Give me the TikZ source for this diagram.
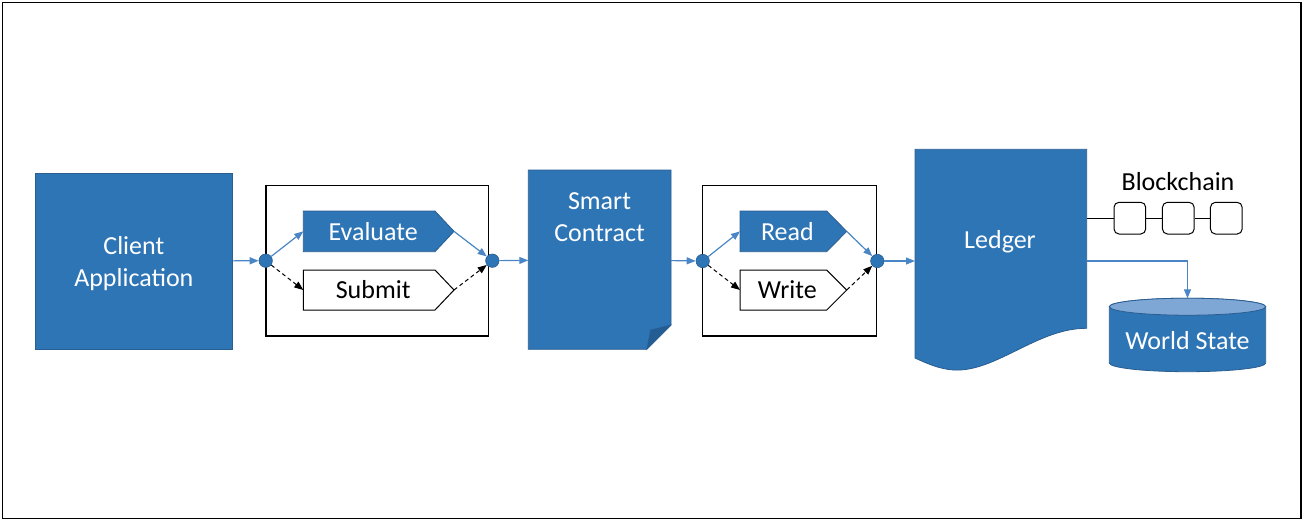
\documentclass[tikz,border=0pt]{standalone}
\usepackage{fontspec}
\setmainfont{Carlito}
\usetikzlibrary{arrows.meta,calc}
\pgfdeclarelayer{bg}
\pgfsetlayers{bg,main}
\definecolor{mblue}{HTML}{2E75B6}
\definecolor{dblue}{HTML}{2A5D90}
\definecolor{lblue}{HTML}{4A86C5}
\definecolor{tblue}{HTML}{7FA7D6}
\definecolor{fblue}{HTML}{245C94}
\begin{document}
\begin{tikzpicture}[x=1pt,y=-1pt,
  font=\fontsize{26pt}{32pt}\selectfont,
  bluebox/.style={fill=mblue, draw=dblue, line width=0.8pt},
  holder/.style={inner sep=0pt, outer sep=0pt},
  frame/.style={draw=black, line width=1.3pt, inner sep=0pt},
  dot/.style={circle, fill=mblue, draw=dblue, line width=0.6pt, minimum size=13.4pt, inner sep=0pt},
  flow/.style={draw=lblue, line width=1.2pt, -{Triangle[length=9pt,width=7pt]}},
  dflow/.style={draw=black, line width=1pt, dash pattern=on 4pt off 3pt, -{Triangle[length=9pt,width=7pt]}},
  blk/.style={draw=black, line width=1pt, rounded corners=5pt, minimum width=31.7pt, minimum height=31.7pt, inner sep=0pt},
  wtext/.style={text=white, align=center, inner sep=0pt},
  btext/.style={text=black, align=center, inner sep=0pt}]
\useasboundingbox (0,0) rectangle (1306,523);

% outer frame
\node[draw=black, line width=1.5pt, minimum width=1298.7pt, minimum height=516pt, inner sep=0pt] (outer) at (651.65,260.3) {};

% client application
\node[bluebox, minimum width=197.7pt, minimum height=176pt] (client) at (133.85,261.3) {};
\node[wtext] (cltext) at (133.85,263.5) {Client\\Application};

% first group
\node[frame, minimum width=222.3pt, minimum height=150.7pt] (box1) at (377.15,260.65) {};
\node[holder, wtext, minimum width=131.7pt, minimum height=40.7pt] (ev) at (369.15,231.35) {\hspace{8pt}Evaluate};
\node[holder, btext, minimum width=131.7pt, minimum height=40pt] (sub) at (369.15,290) {\hspace{8pt}Submit};
\coordinate (evtip) at ($(ev.east)+(19,0)$);
\coordinate (subtip) at ($(sub.east)+(19,0)$);
\begin{pgfonlayer}{bg}
  \draw[bluebox] (ev.north west) -- (ev.north east) -- (evtip) -- (ev.south east) -- (ev.south west) -- cycle;
  \draw[fill=white, draw=black, line width=1pt] (sub.north west) -- (sub.north east) -- (subtip) -- (sub.south east) -- (sub.south west) -- cycle;
\end{pgfonlayer}
\node[dot] (c1) at (265.7,260.7) {};
\node[dot] (c2) at (492.3,260.7) {};

% smart contract
\node[holder, minimum width=142.7pt, minimum height=179.3pt] (sc) at (599.65,259.65) {};
\begin{pgfonlayer}{bg}
  \draw[bluebox] (sc.north west) -- (sc.north east) -- ($(sc.south east)+(0,-24.3)$) -- ($(sc.south east)+(-24.3,0)$) -- (sc.south west) -- cycle;
  \draw[fill=fblue, draw=dblue, line width=0.6pt] ($(sc.south east)+(0,-24.3)$) -- ($(sc.south east)+(-20.3,-19.3)$) -- ($(sc.south east)+(-24.3,0)$) -- cycle;
\end{pgfonlayer}
\node[wtext] (sctext) at (599.5,217.5) {Smart\\Contract};

% second group
\node[frame, minimum width=174.4pt, minimum height=150.7pt] (box2) at (789.5,260.65) {};
\node[holder, wtext, minimum width=86.7pt, minimum height=40.7pt] (rd) at (783.35,231.35) {\hspace{8pt}Read};
\node[holder, btext, minimum width=86.7pt, minimum height=40pt] (wr) at (783.35,290) {\hspace{8pt}Write};
\coordinate (rdtip) at ($(rd.east)+(20,0)$);
\coordinate (wrtip) at ($(wr.east)+(20,0)$);
\begin{pgfonlayer}{bg}
  \draw[bluebox] (rd.north west) -- (rd.north east) -- (rdtip) -- (rd.south east) -- (rd.south west) -- cycle;
  \draw[fill=white, draw=black, line width=1pt] (wr.north west) -- (wr.north east) -- (wrtip) -- (wr.south east) -- (wr.south west) -- cycle;
\end{pgfonlayer}
\node[dot] (c3) at (702.7,261) {};
\node[dot] (c4) at (877.3,261) {};

% ledger
\node[holder, minimum width=171.7pt, minimum height=208.7pt] (ledger) at (1000.85,253.65) {};
\begin{pgfonlayer}{bg}
  \draw[bluebox] (ledger.north west) -- (ledger.north east) -- (1086.7,328.3)
    .. controls (1040,328) and (1000,368) .. (960,370)
    .. controls (945,371) and (930,365) .. (915,358) -- cycle;
\end{pgfonlayer}
\node[wtext] (ledtext) at (1000,241.5) {Ledger};

% blockchain
\node[btext] (bctext) at (1178,181.7) {Blockchain};
\node[blk] (b1) at (1129.85,218.15) {};
\node[blk] (b2) at (1178.3,218.15) {};
\node[blk] (b3) at (1226.3,218.15) {};
\draw[black, line width=1pt] (ledger.east |- b1) -- (b1) (b1) -- (b2) (b2) -- (b3);

% world state cylinder
\node[holder, minimum width=156.4pt, minimum height=73.4pt] (ws) at (1187.5,335) {};
\begin{pgfonlayer}{bg}
  \draw[bluebox] (1109.3,306.7) -- (1109.3,363) arc[start angle=180, end angle=0, x radius=78.2, y radius=8.7]
    -- (1265.7,306.7) arc[start angle=0, end angle=-180, x radius=78.2, y radius=8.5] -- cycle;
  \draw[fill=tblue, draw=dblue, line width=0.8pt] (1187.5,306.7) ellipse[x radius=78.2, y radius=8.5];
\end{pgfonlayer}
\node[wtext] (wstext) at (1187.5,341) {World State};

% connectors
\draw[flow] (client) -- (c1);
\draw[flow] (c1) -- (ev.west);
\draw[dflow] (c1) -- (sub.west);
\draw[flow] (evtip) -- (c2);
\draw[dflow] (subtip) -- (c2);
\draw[flow] (c2) -- (sc);
\draw[flow] (sc) -- (c3);
\draw[flow] (c3) -- (rd.west);
\draw[dflow] (c3) -- (wr.west);
\draw[flow] (rdtip) -- (c4);
\draw[dflow] (wrtip) -- (c4);
\draw[flow] (c4) -- (c4 -| ledger.west);
\draw[flow] (ledger.east |- c4) -| (ws.north);
\end{tikzpicture}
\end{document}
